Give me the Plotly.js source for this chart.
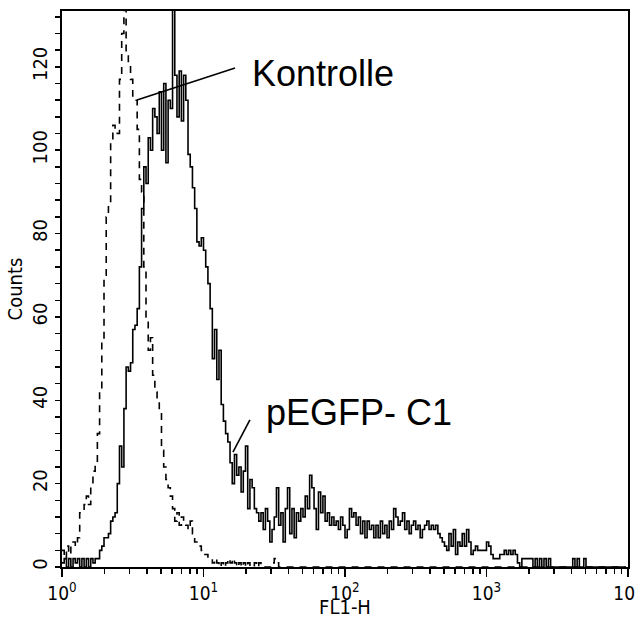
<!DOCTYPE html>
<html>
<head>
<meta charset="utf-8">
<script src="https://cdn.plot.ly/plotly-3.0.1.min.js"></script>
<style>html,body{margin:0;padding:0;background:#fff;}#chart{width:635px;height:619px;}</style>
</head>
<body>
<div id="chart"></div>
<script>
// 256 log-spaced channels over 4 decades (FL1-H 10^0 .. 10^4)
var nChannels = 256;
var decades = 4;

// pEGFP-C1 counts per channel (solid line)
var pegfpCounts = [
  1,2,0,2,0,2,1,2,0,2,0,2,0,2,1,2,
  2,4,5,7,7,8,11,12,13,20,29,24,38,48,47,49,
  57,58,62,72,86,96,92,103,100,110,108,104,114,100,116,97,
  112,110,140,118,108,119,107,118,112,99,96,91,86,78,77,79,
  76,72,68,62,50,57,45,52,39,35,32,30,25,20,27,22,
  24,18,23,29,14,21,19,14,13,11,13,9,14,11,6,9,
  12,19,10,13,6,14,19,8,14,7,13,11,14,12,17,14,
  22,19,14,9,18,13,17,11,13,10,12,10,11,9,12,10,
  7,9,14,12,13,10,12,8,11,7,11,9,10,7,10,7,
  11,8,10,7,11,9,14,12,10,11,13,9,11,8,10,11,
  9,10,7,9,10,11,9,10,9,10,8,7,6,5,4,8,
  5,9,3,6,5,8,5,9,6,3,4,5,4,4,4,4,
  6,5,3,2,2,2,3,3,4,3,4,3,4,3,1,0,
  2,2,2,2,2,0,2,0,2,0,2,0,2,0,0,0,
  0,0,0,0,0,0,0,2,0,2,0,0,2,0,0,0,
  0,0,0,0,0,0,0,0,0,0,0,0,0,0,0,0
];

// Kontrolle counts per channel (dashed line)
var kontrolleCounts = [
  4,2,5,3,5,6,5,7,13,13,15,17,15,20,23,25,
  32,42,54,70,84,87,102,106,105,104,117,128,140,123,121,117,
  113,112,105,93,90,72,60,52,55,46,42,40,37,28,24,21,
  19,17,14,11,13,10,12,11,10,9,11,8,6,5,5,4,
  3,3,2,2,1,2,1,0,1,0,1,2,1,2,1,0,
  1,0,1,0,1,0,0,1,0,1,0,0,0,0,0,1,
  2,1,0,0,0,0,0,0,0,0,0,0,0,0,0,0,
  0,0,0,0,0,0,0,0,0,0,0,0,0,0,0,0,
  0,0,0,0,0,0,0,0,0,0,0,0,0,0,0,0,
  0,0,0,0,0,0,0,0,0,0,0,0,0,0,0,0,
  0,0,0,0,0,0,0,0,0,0,0,0,0,0,0,0,
  0,0,0,0,0,0,0,0,0,0,0,0,0,0,0,0,
  0,0,0,0,0,0,0,0,0,0,0,0,0,0,0,0,
  0,0,0,0,0,0,0,0,0,0,0,0,0,0,0,0,
  0,0,0,0,0,0,0,0,0,0,0,0,0,0,0,0,
  0,0,0,0,0,0,0,0,0,0,0,0,0,0,0,0
];

var xTickVals = [1, 10, 100, 1000, 10000];
var xTickText = ['10<sup>0</sup>', '10<sup>1</sup>', '10<sup>2</sup>', '10<sup>3</sup>', '10<sup>4</sup>'];
var seriesNames = ['pEGFP- C1', 'Kontrolle'];

var channelX = [];
for (var c = 0; c < nChannels; c++) channelX.push(Math.pow(10, c * decades / nChannels));

var minorVals = [];
for (var d = 0; d < decades; d++) for (var m = 2; m <= 9; m++) minorVals.push(m * Math.pow(10, d));

var NARROW = '"Liberation Sans Narrow", "Arial Narrow", "DejaVu Sans Condensed", sans-serif';
var SANS = '"Liberation Sans", Arial, Helvetica, sans-serif';

var traces = [
  {x: channelX, y: kontrolleCounts, name: seriesNames[1], type: 'scatter', mode: 'lines',
   line: {shape: 'hv', color: 'black', width: 1.6, dash: '7px,6px'}},
  {x: channelX, y: pegfpCounts, name: seriesNames[0], type: 'scatter', mode: 'lines',
   line: {shape: 'hv', color: 'black', width: 1.6}}
];

var layout = {
  width: 635, height: 619,
  margin: {l: 62, r: 7, t: 11, b: 52, pad: 0},
  paper_bgcolor: 'white', plot_bgcolor: 'white',
  showlegend: false,
  xaxis: {
    type: 'log', range: [0, 4], tickmode: 'array', tickvals: xTickVals, ticktext: xTickText,
    ticks: 'outside', ticklen: 8, tickwidth: 1.5, tickcolor: 'black', ticklabeloverflow: 'allow',
    showline: true, mirror: true, linewidth: 2, linecolor: 'black',
    showgrid: false, zeroline: false,
    tickfont: {family: NARROW, size: 19, color: 'black'},
    title: {text: 'FL1-H', font: {family: NARROW, size: 20, color: 'black'}, standoff: 4},
    minor: {tickmode: 'array', tickvals: minorVals, ticks: 'outside', ticklen: 5, tickwidth: 1.5, tickcolor: 'black', showgrid: false}
  },
  yaxis: {
    range: [0, 133.4], tickmode: 'linear', tick0: 0, dtick: 20,
    ticks: 'outside', ticklen: 5, tickwidth: 1.5, tickcolor: 'black', tickangle: -90,
    showline: true, mirror: true, linewidth: 2, linecolor: 'black',
    showgrid: false, zeroline: false,
    tickfont: {family: NARROW, size: 20, color: 'black'},
    title: {text: 'Counts', font: {family: NARROW, size: 20, color: 'black'}, standoff: 0},
    minor: {dtick: 4, ticks: 'outside', ticklen: 5, tickwidth: 1.5, tickcolor: 'black', showgrid: false}
  },
  shapes: [
    {type: 'line', xref: 'paper', yref: 'paper', x0: 0.1325, y0: 0.840, x1: 0.3057, y1: 0.8975, line: {color: 'black', width: 1.6}},
    {type: 'line', xref: 'paper', yref: 'paper', x0: 0.302, y0: 0.2068, x1: 0.332, y1: 0.2644, line: {color: 'black', width: 1.6}}
  ],
  annotations: [
    {text: seriesNames[1], xref: 'paper', yref: 'paper', x: 0.332, y: 0.887, xanchor: 'left', yanchor: 'middle', showarrow: false,
     font: {family: SANS, size: 36, color: 'black'}},
    {text: seriesNames[0], xref: 'paper', yref: 'paper', x: 0.357, y: 0.277, xanchor: 'left', yanchor: 'middle', showarrow: false,
     font: {family: SANS, size: 36, color: 'black'}}
  ]
};

Plotly.newPlot('chart', traces, layout, {displayModeBar: false, staticPlot: true});
</script>
</body>
</html>
